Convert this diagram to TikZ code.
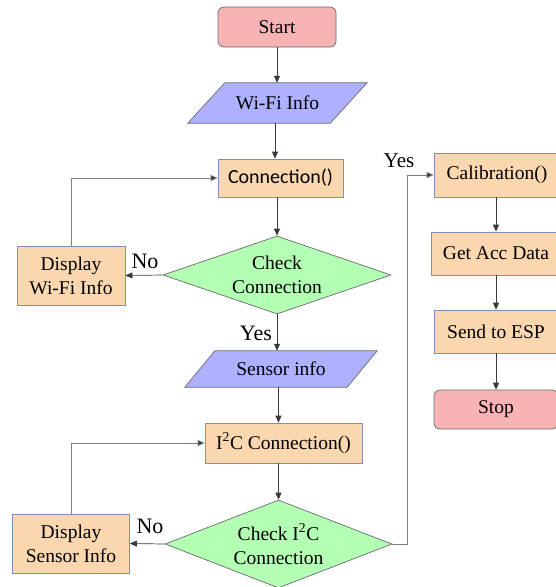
\documentclass[tikz,border=0pt]{standalone}
\usepackage{fontspec}
\setmainfont{Liberation Serif}
\newfontfamily\calibri{Carlito}
\usetikzlibrary{shapes.geometric,arrows.meta,calc}
\definecolor{pinkfill}{HTML}{F8B4B4}
\definecolor{lavfill}{HTML}{ADB1FF}
\definecolor{greenfill}{HTML}{B3FFB3}
\definecolor{peachfill}{HTML}{FAD7AE}
\definecolor{peachline}{HTML}{8090B0}
\definecolor{shapeline}{HTML}{6A6A6A}
\definecolor{conn}{HTML}{3A3A3A}
\definecolor{loopc}{HTML}{808080}
\begin{document}
\begin{tikzpicture}[x=1pt,y=-1pt,
  txt/.style={font=\fontsize{19.5}{24}\selectfont, align=center, inner sep=0pt},
  lbl/.style={font=\fontsize{22}{24}\selectfont, inner sep=0pt},
  term/.style={draw=shapeline, fill=pinkfill, rounded corners=6pt, line width=0.7pt, inner sep=0pt, txt},
  proc/.style={draw=peachline, fill=peachfill, line width=0.7pt, inner sep=0pt, txt},
  iofill/.style={draw=shapeline, fill=lavfill, line width=0.7pt},
  dec/.style={draw=shapeline, fill=greenfill, line width=0.7pt, diamond, inner sep=0pt},
  arr/.style={draw=conn, line width=0.7pt, -{Triangle[length=7pt,width=6pt]}},
  loopline/.style={draw=loopc, line width=0.7pt, -{Triangle[length=7pt,width=6pt,fill=conn]}},
]
\useasboundingbox (0,0) rectangle (555,587);
% left column
\node[term, minimum width=118pt, minimum height=40pt] (start) at (277,27) {Start};
\path (277.5,103) node[minimum width=179pt, minimum height=40pt, inner sep=0pt] (wifi) {};
\path[iofill] ($(wifi.north west)+(37,0)$) -- (wifi.north east) -- ($(wifi.south east)+(-37,0)$) -- (wifi.south west) -- cycle;
\node[txt] (wifitxt) at (wifi) {Wi-Fi Info};
\node[proc, minimum width=125pt, minimum height=38pt, font=\calibri\fontsize{20}{24}\selectfont] (connection) at (280.5,178) {Connection()};
\node[dec, minimum width=228pt, minimum height=78pt] (check1) at (277,275) {};
\node[txt] (check1txt) at (check1) {Check\\Connection};
\node[proc, minimum width=108pt, minimum height=59pt] (dispwifi) at (71,275.5) {Display\\Wi-Fi Info};
\path (281,369) node[minimum width=192pt, minimum height=36pt, inner sep=0pt] (sensor) {};
\path[iofill] ($(sensor.north west)+(30,0)$) -- (sensor.north east) -- ($(sensor.south east)+(-30,0)$) -- (sensor.south west) -- cycle;
\node[txt] (sensortxt) at (sensor) {Sensor info};
\node[proc, minimum width=157pt, minimum height=40pt] (i2c) at (283.5,443) {I\textsuperscript{2}C Connection()};
\node[dec, minimum width=227pt, minimum height=88pt] (check2) at (278.5,544) {};
\node[txt] (check2txt) at (check2) {Check I\textsuperscript{2}C\\Connection};
\node[proc, minimum width=117pt, minimum height=59pt] (dispsensor) at (71,543.5) {Display\\Sensor Info};
% right column
\node[proc, minimum width=126pt, minimum height=44pt] (cal) at (497,175) {Calibration()};
\node[proc, minimum width=130pt, minimum height=43pt] (get) at (496,253.5) {Get Acc Data};
\node[proc, minimum width=124pt, minimum height=43pt] (send) at (496,331.5) {Send to ESP};
\node[term, minimum width=124pt, minimum height=39pt] (stop) at (496,409.5) {Stop};
% labels
\node[lbl] (no1) at (145,261) {No};
\node[lbl] (yes1) at (256,333) {Yes};
\node[lbl] (no2) at (150,526) {No};
\node[lbl, font=\fontsize{21}{24}\selectfont] (yes2) at (399,161) {Yes};
\coordinate (turn) at (407,544);
\coordinate (wout) at ($(wifi.south)+(-2.5,0)$);
% connectors
\draw[arr] (start.south) -- (start.south |- wifi.north);
\draw[arr] (wout) -- (wout |- connection.north);
\draw[arr] (check1 |- connection.south) -- (check1.north);
\draw[arr] (check1.west) -- (dispwifi.east);
\draw[loopline] (dispwifi.north) |- (connection.west);
\draw[arr] (check1.south) -- (check1 |- sensor.north);
\draw[arr] (check2 |- sensor.south) -- (check2 |- i2c.north);
\draw[arr] (check2 |- i2c.south) -- (check2.north);
\draw[arr] (check2.west) -- (dispsensor.east);
\draw[loopline] (dispsensor.north) |- (i2c.west);
\draw[loopline] (check2.east) -- (turn) |- (cal.west);
\draw[arr] (cal.south -| send) -- (get.north -| send);
\draw[arr] (get.south -| send) -- (send.north);
\draw[arr] (send.south) -- (stop.north);
\end{tikzpicture}
\end{document}
